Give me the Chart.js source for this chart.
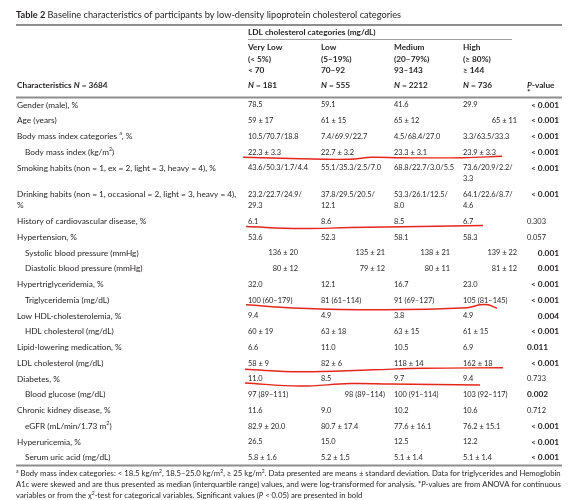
<!DOCTYPE html>
<html><head><meta charset="utf-8">
<script src="https://cdn.jsdelivr.net/npm/chart.js@4.4.1/dist/chart.umd.min.js"></script>
<style>html,body{margin:0;padding:0;background:#fff;}canvas{display:block;}</style>
</head><body>
<canvas id="c" width="583" height="500"></canvas>
<script>
// ---------------- DATA ----------------
const tableNumber = "Table 2";
const tableTitle = "Baseline characteristics of participants by low-density lipoprotein cholesterol categories";
const groupHeader = "LDL cholesterol categories (mg/dL)";
const categories = ["Very Low", "Low", "Medium", "High"];
const percentileRanges = ["(< 5%)", "(5–19%)", "(20–79%)", "(≥ 80%)"];
const ldlRanges = ["< 70", "70–92", "93–143", "≥ 144"];
const groupN = [181, 555, 2212, 736];
const totalN = 3684;

const rowLabels = [
  "Gender (male), %",
  "Age (years)",
  "Body mass index categories ^{a}, %",
  "Body mass index (kg/m^{2})",
  "Smoking habits (non = 1, ex = 2, light = 3, heavy = 4), %",
  "Drinking habits (non = 1, occasional = 2, light = 3, heavy = 4),\n%",
  "History of cardiovascular disease, %",
  "Hypertension, %",
  "Systolic blood pressure (mmHg)",
  "Diastolic blood pressure (mmHg)",
  "Hypertriglyceridemia, %",
  "Triglyceridemia (mg/dL)",
  "Low HDL-cholesterolemia, %",
  "HDL cholesterol (mg/dL)",
  "Lipid-lowering medication, %",
  "LDL cholesterol (mg/dL)",
  "Diabetes, %",
  "Blood glucose (mg/dL)",
  "Chronic kidney disease, %",
  "eGFR (mL/min/1.73 m^{2})",
  "Hyperuricemia, %",
  "Serum uric acid (mg/dL)"
];
const subRows = [3, 8, 9, 11, 13, 17, 19, 21];

const veryLow = ["78.5","59 ± 17","10.5/70.7/18.8","22.3 ± 3.3","43.6/50.3/1.7/4.4","23.2/22.7/24.9/\n29.3","6.1","53.6","136 ± 20","80 ± 12","32.0","100 (60–179)","9.4","60 ± 19","6.6","58 ± 9","11.0","97 (89–111)","11.6","82.9 ± 20.0","26.5","5.8 ± 1.6"];
const low = ["59.1","61 ± 15","7.4/69.9/22.7","22.7 ± 3.2","55.1/35.3/2.5/7.0","37.8/29.5/20.5/\n12.1","8.6","52.3","135 ± 21","79 ± 12","12.1","81 (61–114)","4.9","63 ± 18","11.0","82 ± 6","8.5","98 (89–114)","9.0","80.7 ± 17.4","15.0","5.2 ± 1.5"];
const medium = ["41.6","65 ± 12","4.5/68.4/27.0","23.3 ± 3.1","68.8/22.7/3.0/5.5","53.3/26.1/12.5/\n8.0","8.5","58.1","138 ± 21","80 ± 11","16.7","91 (69–127)","3.8","63 ± 15","10.5","118 ± 14","9.7","100 (91–114)","10.2","77.6 ± 16.1","12.5","5.1 ± 1.4"];
const high = ["29.9","65 ± 11","3.3/63.5/33.3","23.9 ± 3.3","73.6/20.9/2.2/\n3.3","64.1/22.6/8.7/\n4.6","6.7","58.3","139 ± 22","81 ± 12","23.0","105 (81–145)","4.9","61 ± 15","6.9","162 ± 18","9.4","103 (92–117)","10.6","76.2 ± 15.1","12.2","5.1 ± 1.4"];
const pValues = ["< 0.001","< 0.001","< 0.001","< 0.001","< 0.001","< 0.001","0.303","0.057","0.001","0.001","< 0.001","< 0.001","0.004","< 0.001","0.011","< 0.001","0.733","0.002","0.712","< 0.001","< 0.001","< 0.001"];

const footnotes = [
  "^{a} Body mass index categories: < 18.5 kg/m^{2}, 18.5–25.0 kg/m^{2}, ≥ 25 kg/m^{2}. Data presented are means ± standard deviation. Data for triglycerides and Hemoglobin",
  "A1c were skewed and are thus presented as median (interquartile range) values, and were log-transformed for analysis. *_{P}-values are from ANOVA for continuous",
  "variables or from the χ^{2}-test for categorical variables. Significant values (_{P} < 0.05) are presented in bold"
];

// hand-drawn red underlines (row index, points: [x, offset below row centre])
const underlineRows = [3, 6, 11, 15, 16];
const underlineStrokes = [
  [[243,5],[300,6.5],[350,7],[372,5],[400,5.5],[463,5.5],[502,4]],
  [[246,5],[300,7],[350,6],[420,5],[483,4]],
  [[246,4.5],[300,8],[383,9.5],[467,7.5],[480,4.5],[488,4.5],[497,8]],
  [[245,6],[300,8.5],[373,6.5],[423,5],[503,4.5]],
  [[245,4],[300,7],[350,4.5],[390,5],[480,6]]
];

// ---------------- LAYOUT / STYLE ----------------
const FONT = "Lato";
const INK = "#231f20";
const L = {
  firstRow: 105, pitch: 15.75, twoLineStep: 1.7, lineGap: 10.5,
  labelX: 17, indentX: 25,
  colX: [248, 321, 394, 463], colRight: [298, 385, 450, 517],
  pX: 527, pRight: 559,
  ruleLeft: 16, ruleRight: 562,
  titleY: 15, rule1Y: 25, groupY: 32, thinRuleY: 39.5, thinRuleRight: 512,
  catY: [47.5, 59, 70.5], nY: 85, starY: 92.5, rule2Y: 97.5, rule3Y: 465.5,
  footY: [474, 485, 496]
};
const rightCells = {1: [3], 8: [0,1,2,3], 9: [0,1,2,3], 17: [1]};
const pLeftRows = [6, 7, 14, 16, 17, 18];

// ---------------- HELPERS ----------------
const series = [veryLow, low, medium, high];
const rowPos = [];
(function(){ let acc = 0;
  for (let i = 0; i < rowLabels.length; i++) {
    rowPos.push(acc);
    const lines = Math.max(...[rowLabels[i], ...series.map(s => s[i])].map(t => t.split("\n").length));
    acc += lines > 1 ? L.twoLineStep : 1;
  }
})();
const toUnit = px => (px - L.firstRow) / L.pitch;

function parseRich(str) {
  const parts = str.split(/(\^\{[^}]*\}|_\{[^}]*\})/).filter(s => s.length);
  return parts.map(p => {
    if (p.startsWith("^{")) return {t: p.slice(2, -1), sup: true};
    if (p.startsWith("_{")) return {t: p.slice(2, -1), it: true};
    return {t: p};
  });
}
function fontOf(size, bold, italic) { return (italic ? "italic " : "") + (bold ? "bold " : "") + size.toFixed(2) + "px " + FONT; }
function richWidth(ctx, str, o) {
  let w = 0;
  for (const s of parseRich(str)) {
    ctx.font = fontOf(s.sup ? o.size * 0.65 : o.size, o.bold, o.italic || s.it);
    w += ctx.measureText(s.t).width;
  }
  return w;
}
function drawRich(ctx, str, x, y, o) {
  const segs = parseRich(str);
  let cx = o.align === "right" ? x - richWidth(ctx, str, o) : x;
  ctx.textBaseline = "middle"; ctx.textAlign = "left"; ctx.fillStyle = INK;
  for (const s of segs) {
    const sz = s.sup ? o.size * 0.65 : o.size;
    ctx.font = fontOf(sz, o.bold, o.italic || s.it);
    ctx.fillText(s.t, cx, s.sup ? y - o.size * 0.38 : y);
    cx += ctx.measureText(s.t).width;
  }
}
function fitSize(ctx, str, target, bold) {
  const w = richWidth(ctx, str, {size: 20, bold});
  return 20 * target / w;
}
function pNum(p) { return parseFloat(p.replace("<", "").trim()) - (p.includes("<") ? 1e-6 : 0); }

// ---------------- TABLE PLUGIN ----------------
const tablePlugin = {
  id: "tableText",
  beforeDatasetsDraw(chart) {
    const ctx = chart.ctx, xs = chart.scales.x, ys = chart.scales.y;
    const X = v => xs.getPixelForValue(v);
    const Y = px => ys.getPixelForValue(toUnit(px));
    const YR = u => ys.getPixelForValue(u);
    ctx.save();
    const body = fitSize(ctx, rowLabels[4], 199, false);
    const dataSize = fitSize(ctx, low[4], 60, false);
    const titleSize = fitSize(ctx, "Baseline characteristics of participants by", 167, false);
    const footSize = fitSize(ctx, footnotes[1], 545, false);

    // title
    ctx.font = fontOf(titleSize, true, false);
    const tw = ctx.measureText(tableNumber + " ").width;
    drawRich(ctx, tableNumber, X(L.ruleLeft), Y(L.titleY), {size: titleSize, bold: true});
    drawRich(ctx, tableTitle, X(L.ruleLeft) + tw, Y(L.titleY), {size: titleSize});

    // rules
    function rule(x1, x2, y, w, c) { ctx.beginPath(); ctx.strokeStyle = c; ctx.lineWidth = w; ctx.moveTo(X(x1), Y(y)); ctx.lineTo(X(x2), Y(y)); ctx.stroke(); }
    rule(L.ruleLeft, L.ruleRight, L.rule1Y, 2, "#8e8e8e");
    rule(L.colX[0], L.thinRuleRight, L.thinRuleY, 1, "#a0a0a0");
    rule(L.ruleLeft, L.ruleRight, L.rule2Y, 2, "#8e8e8e");
    rule(L.ruleLeft, L.ruleRight, L.rule3Y, 2, "#8e8e8e");

    // header
    drawRich(ctx, groupHeader, X(L.colX[0]), Y(L.groupY), {size: body, bold: true});
    categories.forEach((c, j) => {
      drawRich(ctx, c, X(L.colX[j]), Y(L.catY[0]), {size: body, bold: true});
      drawRich(ctx, percentileRanges[j], X(L.colX[j]), Y(L.catY[1]), {size: body, bold: true});
      drawRich(ctx, ldlRanges[j], X(L.colX[j]), Y(L.catY[2]), {size: body, bold: true});
      drawRich(ctx, "_{N} = " + groupN[j], X(L.colX[j]), Y(L.nY), {size: body, bold: true});
    });
    drawRich(ctx, "Characteristics _{N} = " + totalN, X(L.labelX), Y(L.nY), {size: body, bold: true});
    drawRich(ctx, "_{P}-value", X(L.pX), Y(L.nY), {size: body, bold: true});
    drawRich(ctx, "*", X(L.pX), Y(L.starY), {size: body, bold: true});

    // body rows
    rowLabels.forEach((lab, i) => {
      const yc = YR(rowPos[i]);
      const lx = subRows.includes(i) ? L.indentX : L.labelX;
      lab.split("\n").forEach((ln, k) => drawRich(ctx, ln, X(lx), yc + k * L.lineGap, {size: body}));
      series.forEach((s, j) => {
        const right = (rightCells[i] || []).includes(j);
        s[i].split("\n").forEach((ln, k) => {
          drawRich(ctx, ln, X(right ? L.colRight[j] : L.colX[j]), yc + k * L.lineGap, {size: dataSize, align: right ? "right" : "left"});
        });
      });
      const sig = pNum(pValues[i]) < 0.05;
      const pr = !pLeftRows.includes(i);
      drawRich(ctx, pValues[i], X(pr ? L.pRight : L.pX), yc, {size: sig ? body : dataSize, bold: sig, align: pr ? "right" : "left"});
    });

    // footnotes
    footnotes.forEach((f, k) => drawRich(ctx, f, X(L.ruleLeft), Y(L.footY[k]), {size: footSize}));
    ctx.restore();
  }
};

// ---------------- CHART ----------------
const datasets = underlineRows.map((r, k) => ({
  data: underlineStrokes[k].map(([x, dy]) => ({x, y: rowPos[r] + dy / L.pitch})),
  borderColor: "#e5261d", borderWidth: 1.4, pointRadius: 0, tension: 0.4, fill: false
}));

new Chart(document.getElementById("c"), {
  type: "line",
  data: {datasets},
  options: {
    responsive: false, animation: false, events: [],
    layout: {padding: 0},
    plugins: {legend: {display: false}, tooltip: {enabled: false}},
    scales: {
      x: {type: "linear", display: false, min: 0, max: 583},
      y: {type: "linear", display: false, reverse: true, min: toUnit(0), max: toUnit(500)}
    }
  },
  plugins: [tablePlugin]
});
</script>
</body></html>
